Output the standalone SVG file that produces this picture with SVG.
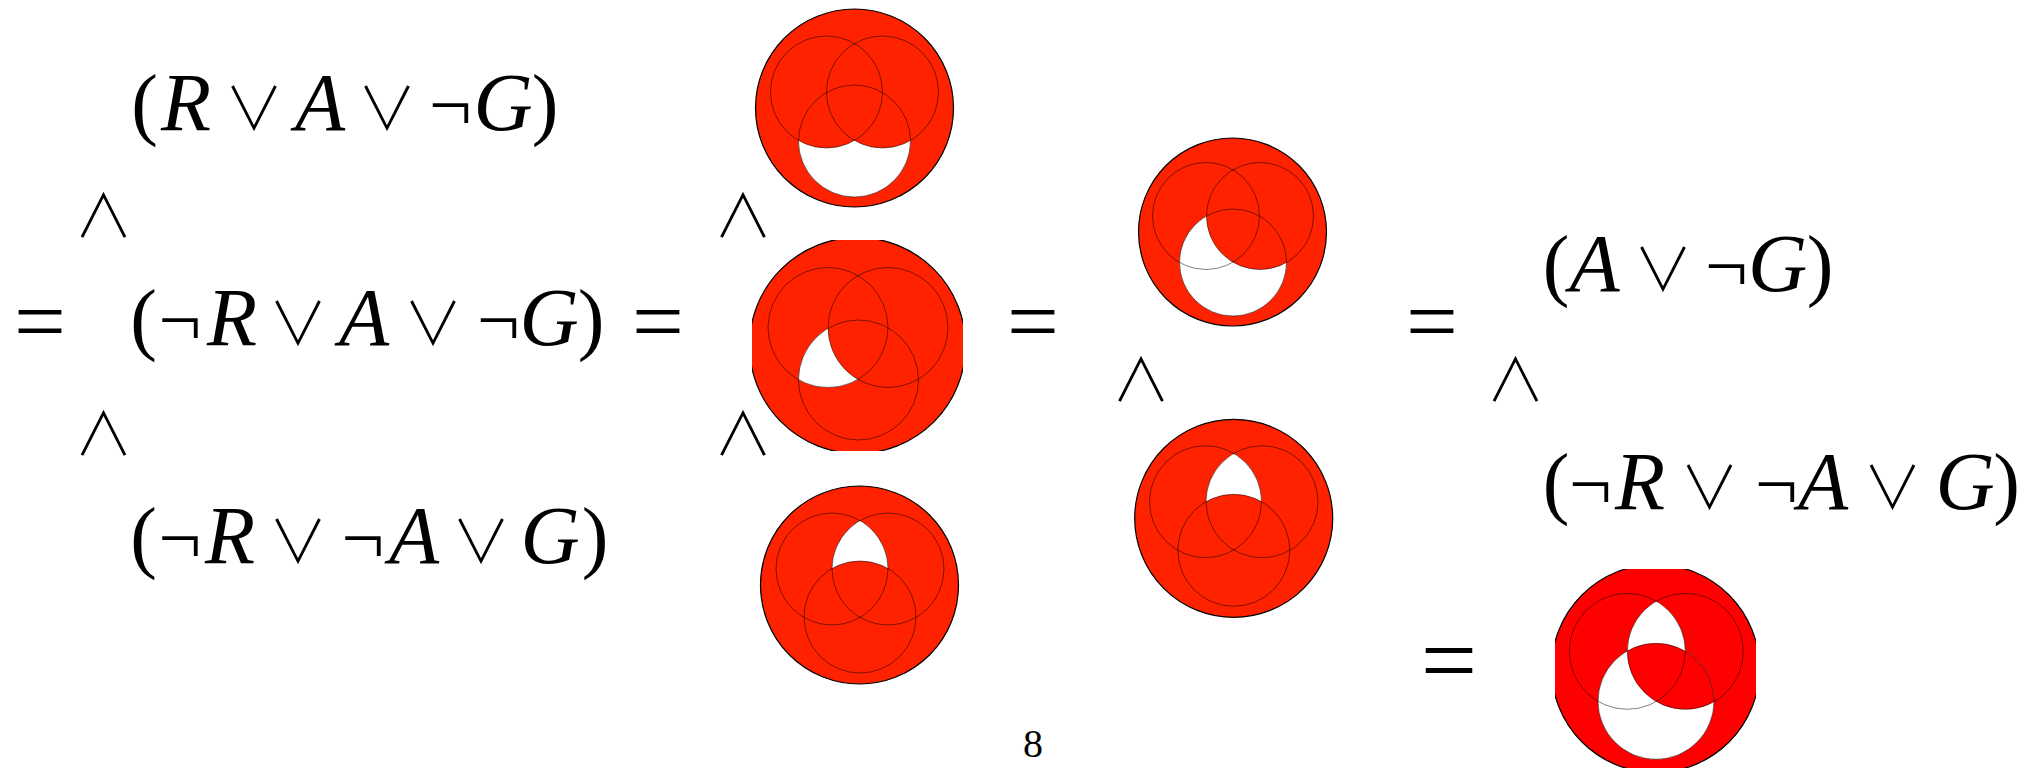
<svg xmlns="http://www.w3.org/2000/svg" width="2033" height="771" viewBox="0 0 2033 771">
<style>
.f{font-family:"Liberation Serif","DejaVu Serif",serif;fill:#000;text-anchor:middle}
.p{font-size:80px}
.v{font-size:82px;font-style:italic}
.n{font-size:76px}
.o{font-family:"Noto Sans CJK JP","DejaVu Sans",sans-serif;font-size:59px;font-weight:300}
.e{font-size:92px}
.pg{font-size:40px}
.red{fill:#ff2200}
.red6{fill:#ff0000}
.wh{fill:#fff}
.out{stroke:#000;stroke-width:1.2}
.ln{fill:none;stroke:#000;stroke-opacity:0.5;stroke-width:1}
</style>
<defs>
<clipPath id="clipBox2"><rect x="752" y="240" width="211" height="211"/></clipPath>
<clipPath id="clipB2"><circle cx="858.5" cy="380" r="60"/></clipPath>
<clipPath id="clipR3"><circle cx="888" cy="569" r="56"/></clipPath>
<clipPath id="clipR5"><circle cx="1262" cy="501.7" r="56"/></clipPath>
<clipPath id="clipBox6"><rect x="1555" y="569" width="201" height="199"/></clipPath>
<clipPath id="clipR6"><circle cx="1685.3" cy="651.3" r="58"/></clipPath>
<clipPath id="clipB6"><circle cx="1656" cy="701.3" r="58"/></clipPath>
</defs>

<g id="formula-left-1" class="f">
<text y="130"><tspan class="p" x="144.5">(</tspan><tspan class="v" x="186">R</tspan><tspan class="o" x="254">∨</tspan><tspan class="v" x="320">A</tspan><tspan class="o" x="387">∨</tspan><tspan class="n" x="450.5">¬</tspan><tspan class="v" x="503">G</tspan><tspan class="p" x="545">)</tspan></text>
</g>
<g id="and-left-1" class="f"><text class="o" x="103.5" y="237">∧</text></g>
<g id="formula-left-2" class="f">
<text y="345"><tspan class="p" x="143.5">(</tspan><tspan class="n" x="180">¬</tspan><tspan class="v" x="232">R</tspan><tspan class="o" x="298">∨</tspan><tspan class="v" x="364">A</tspan><tspan class="o" x="433">∨</tspan><tspan class="n" x="498.5">¬</tspan><tspan class="v" x="549">G</tspan><tspan class="p" x="591">)</tspan></text>
</g>
<g id="and-left-2" class="f"><text class="o" x="103.5" y="455">∧</text></g>
<g id="formula-left-3" class="f">
<text y="563"><tspan class="p" x="143.5">(</tspan><tspan class="n" x="180">¬</tspan><tspan class="v" x="230">R</tspan><tspan class="o" x="298">∨</tspan><tspan class="n" x="363">¬</tspan><tspan class="v" x="414">A</tspan><tspan class="o" x="481">∨</tspan><tspan class="v" x="550">G</tspan><tspan class="p" x="595">)</tspan></text>
</g>

<g id="equals" class="f">
<text class="e" x="40" y="352">=</text>
<text class="e" x="658" y="352">=</text>
<text class="e" x="1033" y="352">=</text>
<text class="e" x="1432" y="352">=</text>
<text class="e" x="1449" y="694" style="font-size:100px">=</text>
</g>

<g id="and-venn" class="f">
<text class="o" x="743" y="237">∧</text>
<text class="o" x="743" y="455">∧</text>
<text class="o" x="1141" y="401">∧</text>
<text class="o" x="1515.5" y="401">∧</text>
</g>

<g id="formula-right-1" class="f">
<text y="291"><tspan class="p" x="1556">(</tspan><tspan class="v" x="1594.5">A</tspan><tspan class="o" x="1663">∨</tspan><tspan class="n" x="1726.5">¬</tspan><tspan class="v" x="1777.5">G</tspan><tspan class="p" x="1820">)</tspan></text>
</g>
<g id="formula-right-2" class="f">
<text y="509"><tspan class="p" x="1556">(</tspan><tspan class="n" x="1590.5">¬</tspan><tspan class="v" x="1640">R</tspan><tspan class="o" x="1709.5">∨</tspan><tspan class="n" x="1776.5">¬</tspan><tspan class="v" x="1823">A</tspan><tspan class="o" x="1892.5">∨</tspan><tspan class="v" x="1965">G</tspan><tspan class="p" x="2006.5">)</tspan></text>
</g>

<g id="venn-1">
<circle class="red out" cx="854.5" cy="108" r="99"/>
<circle class="wh" cx="854.5" cy="141" r="56"/>
<circle class="red" cx="826.5" cy="92" r="56"/>
<circle class="red" cx="882.5" cy="92" r="56"/>
<circle class="ln" cx="826.5" cy="92" r="56"/>
<circle class="ln" cx="882.5" cy="92" r="56"/>
<circle class="ln" cx="854.5" cy="141" r="56"/>
</g>

<g id="venn-2" clip-path="url(#clipBox2)">
<circle class="red out" cx="857.5" cy="345.5" r="108"/>
<circle class="wh" cx="828" cy="327.5" r="60" clip-path="url(#clipB2)"/>
<circle class="red" cx="888" cy="327.5" r="60"/>
<circle class="ln" cx="828" cy="327.5" r="60"/>
<circle class="ln" cx="888" cy="327.5" r="60"/>
<circle class="ln" cx="858.5" cy="380" r="60"/>
</g>

<g id="venn-3">
<circle class="red out" cx="859.5" cy="585" r="99"/>
<circle class="wh" cx="832" cy="569" r="56" clip-path="url(#clipR3)"/>
<circle class="red" cx="860" cy="617" r="56"/>
<circle class="ln" cx="832" cy="569" r="56"/>
<circle class="ln" cx="888" cy="569" r="56"/>
<circle class="ln" cx="860" cy="617" r="56"/>
</g>

<g id="venn-4">
<circle class="red out" cx="1232.5" cy="232" r="94"/>
<circle class="wh" cx="1233" cy="262.5" r="53.5"/>
<circle class="red" cx="1260" cy="216" r="53.5"/>
<circle class="ln" cx="1206" cy="216" r="53.5"/>
<circle class="ln" cx="1260" cy="216" r="53.5"/>
<circle class="ln" cx="1233" cy="262.5" r="53.5"/>
</g>

<g id="venn-5">
<circle class="red out" cx="1233.7" cy="518.3" r="99"/>
<circle class="wh" cx="1205.5" cy="501.7" r="56" clip-path="url(#clipR5)"/>
<circle class="red" cx="1233.8" cy="550.3" r="56"/>
<circle class="ln" cx="1205.5" cy="501.7" r="56"/>
<circle class="ln" cx="1262" cy="501.7" r="56"/>
<circle class="ln" cx="1233.8" cy="550.3" r="56"/>
</g>

<g id="venn-6" clip-path="url(#clipBox6)">
<circle class="red6 out" cx="1655.5" cy="668.5" r="104"/>
<circle class="wh" cx="1627.3" cy="651.3" r="58" clip-path="url(#clipR6)"/>
<circle class="wh" cx="1656" cy="701.3" r="58"/>
<circle class="red6" cx="1685.3" cy="651.3" r="58" clip-path="url(#clipB6)"/>
<circle class="ln" cx="1627.3" cy="651.3" r="58"/>
<circle class="ln" cx="1685.3" cy="651.3" r="58"/>
<circle class="ln" cx="1656" cy="701.3" r="58"/>
</g>

<g id="page-number" class="f"><text class="pg" x="1033" y="757">8</text></g>
</svg>
